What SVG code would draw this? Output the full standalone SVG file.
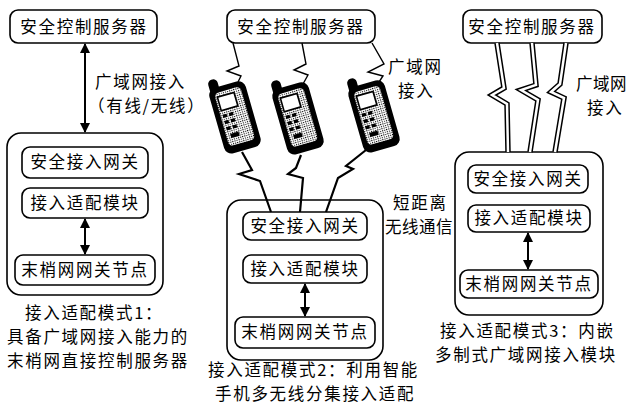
<svg xmlns="http://www.w3.org/2000/svg" xmlns:xlink="http://www.w3.org/1999/xlink" width="628" height="405" viewBox="0 0 628 405">
  <style>
    .box { fill: #fff; stroke: #000; stroke-width: 1.6; }
    .frame { fill: #fff; stroke: #000; stroke-width: 1.6; }
    text { font-family: "Noto Sans CJK SC", "Noto Sans", sans-serif; font-size: 16.5px; letter-spacing: 1.7px; fill: #000; }
    .c { text-anchor: middle; }
    .tight { letter-spacing: 0.5px; }
    .link { fill: none; stroke: #000; stroke-width: 2; }
    .bolt { fill: none; stroke: #000; stroke-width: 1.4; stroke-linejoin: miter; }
    .bolt2 { fill: none; stroke: #000; stroke-width: 2.2; stroke-linejoin: miter; }
    .wide-o { fill: none; stroke: #000; stroke-width: 5.5; stroke-linejoin: miter; stroke-miterlimit: 8; }
    .wide-i { fill: none; stroke: #fff; stroke-width: 2.5; stroke-linejoin: miter; stroke-miterlimit: 8; }
  </style>
  <defs>
    <marker id="head" viewBox="0 0 10 10" refX="9" refY="5" markerWidth="5" markerHeight="5.5" orient="auto-start-reverse">
      <path d="M0,0 L10,5 L0,10 Z" fill="#000"/>
    </marker>
    <pattern id="stipple" width="2" height="2" patternUnits="userSpaceOnUse">
      <rect width="2" height="2" fill="#fff"/>
      <rect width="1" height="1" fill="#000"/>
    </pattern>
    <!-- handset clip-art, drawn upright around its centre -->
    <g id="handset">
      <rect x="-15" y="-38" width="9" height="14" rx="4" fill="#000"/>
      <rect x="-17" y="-30" width="35" height="63" rx="7" fill="#000"/>
      <rect x="-12" y="-25" width="25" height="51" rx="4" fill="url(#stipple)"/>
      <rect x="-10" y="-21" width="16" height="13" fill="#fff" stroke="#000" stroke-width="1.5"/>
      <rect x="-10" y="-4" width="4" height="3" fill="#000"/>
      <rect x="-4" y="-4" width="4" height="3" fill="#000"/>
      <rect x="-10" y="2" width="4" height="3" fill="#000"/>
      <rect x="-4" y="2" width="4" height="3" fill="#000"/>
      <rect x="-10" y="8" width="4" height="3" fill="#000"/>
      <rect x="-4" y="8" width="4" height="3" fill="#000"/>
      <rect x="-8" y="15" width="8" height="4" fill="#000"/>
    </g>
  </defs>

  <rect width="628" height="405" fill="#fff"/>

  <!-- mode 1 -->
  <g id="server1">
    <rect class="box" x="10" y="10" width="147" height="33" rx="8"/>
    <text class="c" x="84" y="33">安全控制服务器</text>
  </g>
  <g id="wan-label1">
    <text x="95" y="88">广域网接入</text>
    <text x="88" y="112">（有线/无线）</text>
  </g>
  <g id="terminal1">
    <rect class="frame" x="7" y="133" width="156" height="162" rx="14"/>
    <g id="gateway1">
      <rect class="box" x="22" y="147" width="126" height="31" rx="8"/>
      <text class="c" x="85" y="168">安全接入网关</text>
    </g>
    <g id="adapter1">
      <rect class="box" x="22" y="188" width="126" height="30" rx="8"/>
      <text class="c" x="85" y="209">接入适配模块</text>
    </g>
    <g id="node1">
      <rect class="box" x="15" y="255" width="140" height="30" rx="8"/>
      <text class="c" x="85" y="276">末梢网网关节点</text>
    </g>
  </g>
  <g id="caption1">
    <text x="25" y="319">接入适配模式1：</text>
    <text x="7" y="343">具备广域网接入能力的</text>
    <text x="7" y="367">末梢网直接控制服务器</text>
  </g>

  <!-- mode 2 -->
  <g id="server2">
    <rect class="box" x="227" y="10" width="148" height="33" rx="8"/>
    <text class="c" x="301" y="33">安全控制服务器</text>
  </g>
  <g id="phone1"><use xlink:href="#handset" href="#handset" transform="translate(234,116) rotate(-16) scale(1.08)"/></g>
  <g id="phone2"><use xlink:href="#handset" href="#handset" transform="translate(297,117) rotate(-16) scale(1.08)"/></g>
  <g id="phone3"><use xlink:href="#handset" href="#handset" transform="translate(373,115) rotate(-16) scale(1.08)"/></g>
  <g id="wan-label2">
    <text x="388" y="73">广域网</text>
    <text x="398" y="97">接入</text>
  </g>
  <g id="short-range-label">
    <text x="393" y="209">短距离</text>
    <text x="385" y="233" class="tight">无线通信</text>
  </g>
  <g id="terminal2">
    <rect class="frame" x="227" y="200" width="156" height="160" rx="14"/>
    <g id="gateway2">
      <rect class="box" x="243" y="212" width="124" height="28" rx="8"/>
      <text class="c" x="305" y="232">安全接入网关</text>
    </g>
    <g id="adapter2">
      <rect class="box" x="243" y="255" width="124" height="28" rx="8"/>
      <text class="c" x="305" y="275">接入适配模块</text>
    </g>
    <g id="node2">
      <rect class="box" x="235" y="317" width="140" height="31" rx="8"/>
      <text class="c" x="305" y="338">末梢网网关节点</text>
    </g>
  </g>
  <g id="caption2">
    <text x="208" y="376">接入适配模式2：利用智能</text>
    <text x="215" y="400">手机多无线分集接入适配</text>
  </g>

  <!-- mode 3 -->
  <g id="server3">
    <rect class="box" x="463" y="10" width="139" height="33" rx="8"/>
    <text class="c" x="532" y="33">安全控制服务器</text>
  </g>
  <g id="wan-label3">
    <text x="576" y="90" class="tight">广域网</text>
    <text x="587" y="114">接入</text>
  </g>
  <g id="terminal3">
    <rect class="frame" x="455" y="152" width="148" height="163" rx="14"/>
    <g id="gateway3">
      <rect class="box" x="468" y="165" width="120" height="28" rx="8"/>
      <text class="c" x="528" y="185">安全接入网关</text>
    </g>
    <g id="adapter3">
      <rect class="box" x="468" y="205" width="122" height="27" rx="8"/>
      <text class="c" x="529" y="224">接入适配模块</text>
    </g>
    <g id="node3">
      <rect class="box" x="460" y="270" width="138" height="28" rx="8"/>
      <text class="c" x="529" y="290">末梢网网关节点</text>
    </g>
  </g>
  <g id="caption3">
    <text x="440" y="337">接入适配模式3：内嵌</text>
    <text x="435" y="361">多制式广域网接入模块</text>
  </g>

  <!-- connectors -->
  <g id="connectors">
    <!-- mode 1 -->
    <line class="link" x1="85" y1="44" x2="85" y2="132" marker-start="url(#head)" marker-end="url(#head)"/>
    <line class="link" x1="85" y1="219" x2="85" y2="254" marker-start="url(#head)" marker-end="url(#head)"/>
    <!-- mode 2: server to handsets -->
    <polyline class="bolt" points="233,43 239,66 227,71 241,76 238,82"/>
    <polyline class="bolt" points="302,43 306,64 294,70 308,75 303,84"/>
    <polyline class="bolt" points="372,43 384,64 368,72 383,76 379,82"/>
    <!-- mode 2: handsets to gateway -->
    <polyline class="bolt2" points="242,152 252,170 239,174 260,181 271,212"/>
    <polyline class="bolt2" points="301,155 296,168 288,174 303,178 300,212"/>
    <polyline class="bolt2" points="366,150 346,166 353,169 338,178 326,212"/>
    <line class="link" x1="305" y1="284" x2="305" y2="316" marker-start="url(#head)" marker-end="url(#head)"/>
    <!-- mode 3: wide bolts -->
    <polyline class="wide-o" points="497,43 504,88 492,95 507,104 508,152"/>
    <polyline class="wide-i" points="497,43 504,88 492,95 507,104 508,152"/>
    <polyline class="wide-o" points="532,43 536,85 521,90 538,100 530,152"/>
    <polyline class="wide-i" points="532,43 536,85 521,90 538,100 530,152"/>
    <polyline class="wide-o" points="566,43 560,84 551,92 564,98 555,152"/>
    <polyline class="wide-i" points="566,43 560,84 551,92 564,98 555,152"/>
    <line class="link" x1="528" y1="233" x2="528" y2="269" marker-start="url(#head)" marker-end="url(#head)"/>
  </g>
</svg>
